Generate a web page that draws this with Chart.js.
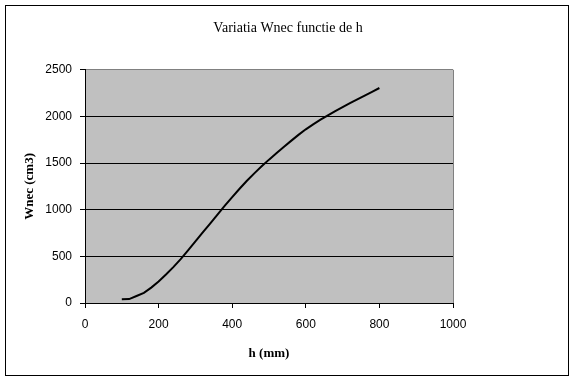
<!DOCTYPE html>
<html>
<head>
<meta charset="utf-8">
<script src="https://cdn.jsdelivr.net/npm/chart.js@4/dist/chart.umd.min.js"></script>
<style>
  html, body { margin: 0; padding: 0; background: #ffffff; }
  #wrap { width: 576px; height: 381px; position: relative; }
</style>
</head>
<body>
<div id="wrap"><canvas id="c" width="576" height="381"></canvas></div>
<script>
// ---- data ----
const hValues = [100, 120, 140, 160, 180, 200, 220, 240, 260, 280, 300, 320, 340, 360, 380, 400,
                 420, 440, 460, 480, 500, 520, 540, 560, 580, 600, 620, 640, 660, 680, 700, 720,
                 740, 760, 780, 800];
const wValues = [40, 42, 75, 108, 165, 230, 305, 385, 470, 564, 660, 756, 852, 948, 1043, 1135,
                 1225, 1310, 1390, 1465, 1537, 1605, 1672, 1738, 1802, 1862, 1915, 1965, 2012, 2057, 2100, 2142,
                 2183, 2224, 2264, 2305];
const xTickValues = [0, 200, 400, 600, 800, 1000];
const yTickValues = [0, 500, 1000, 1500, 2000, 2500];
const chartTitle = 'Variatia Wnec functie de h';
const xTitle = 'h (mm)';
const yTitle = 'Wnec (cm3)';

const points = hValues.map((h, i) => ({ x: h, y: wValues[i] }));

const frame = {
  id: 'frame',
  beforeDraw(chart) {
    const { ctx, chartArea: a } = chart;
    ctx.save();
    ctx.fillStyle = '#ffffff';
    ctx.fillRect(0, 0, chart.width, chart.height);
    ctx.fillStyle = '#c0c0c0';
    ctx.fillRect(a.left, a.top, a.right - a.left, a.bottom - a.top);
    ctx.strokeStyle = '#000000';
    ctx.lineWidth = 1;
    ctx.strokeRect(5.5, 5.5, 563, 370);
    ctx.restore();
  },
  afterDatasetsDraw(chart) {
    const { ctx, chartArea: a } = chart;
    ctx.save();
    ctx.strokeStyle = '#808080';
    ctx.lineWidth = 1;
    ctx.beginPath();
    ctx.moveTo(Math.round(a.right) + 0.5, a.top);
    ctx.lineTo(Math.round(a.right) + 0.5, a.bottom);
    ctx.stroke();
    ctx.restore();
  }
};

new Chart(document.getElementById('c'), {
  type: 'scatter',
  data: {
    datasets: [{
      data: points,
      showLine: true,
      borderColor: '#000000',
      backgroundColor: '#000000',
      borderWidth: 2,
      pointRadius: 0,
      tension: 0
    }]
  },
  plugins: [frame],
  options: {
    responsive: false,
    animation: false,
    layout: { padding: { left: 0, right: 0, top: 0, bottom: 0 } },
    plugins: {
      legend: { display: false },
      tooltip: { enabled: false },
      title: {
        display: true,
        text: chartTitle,
        color: '#000000',
        font: { family: '"Liberation Serif", "Times New Roman", serif', size: 14, weight: 'normal' },
        padding: { top: 20, bottom: 33 }
      }
    },
    scales: {
      x: {
        type: 'linear',
        min: 0,
        max: 1000,
        afterBuildTicks: s => { s.ticks = xTickValues.map(v => ({ value: v })); },
        afterFit: s => { s.height = 78; s.paddingLeft = 0; s.paddingRight = 0; },
        ticks: {
          color: '#000000',
          padding: 9,
          maxRotation: 0,
          callback: v => String(v),
          font: { family: '"Liberation Sans", Arial, sans-serif', size: 12 }
        },
        grid: { drawOnChartArea: false, drawTicks: true, tickLength: 5, color: '#000000', tickColor: '#000000' },
        border: { color: '#000000', width: 1 },
        title: {
          display: true,
          text: xTitle,
          color: '#000000',
          font: { family: '"Liberation Serif", "Times New Roman", serif', size: 13, weight: 'bold' },
          padding: { top: 0, bottom: 20 }
        }
      },
      y: {
        type: 'linear',
        min: 0,
        max: 2500,
        afterBuildTicks: s => { s.ticks = yTickValues.map(v => ({ value: v })); },
        afterFit: s => { s.width = 85; s.paddingTop = 0; s.paddingBottom = 0; },
        ticks: {
          color: '#000000',
          padding: 8,
          callback: v => String(v),
          font: { family: '"Liberation Sans", Arial, sans-serif', size: 12 }
        },
        grid: {
          drawOnChartArea: true,
          drawTicks: true,
          tickLength: 5,
          color: c => (c.tick && c.tick.value === 2500) ? '#808080' : '#000000',
          tickColor: '#000000'
        },
        border: { color: '#000000', width: 1 },
        title: {
          display: true,
          text: yTitle,
          color: '#000000',
          font: { family: '"Liberation Serif", "Times New Roman", serif', size: 13, weight: 'bold' },
          padding: { top: 22, bottom: 0 }
        }
      },
      spacer: {
        type: 'linear',
        position: 'right',
        min: 0,
        max: 2500,
        afterFit: s => { s.width = 123; s.paddingTop = 0; s.paddingBottom = 0; },
        ticks: { display: false },
        grid: { display: false },
        border: { display: false },
        title: { display: false }
      }
    }
  }
});
</script>
</body>
</html>
